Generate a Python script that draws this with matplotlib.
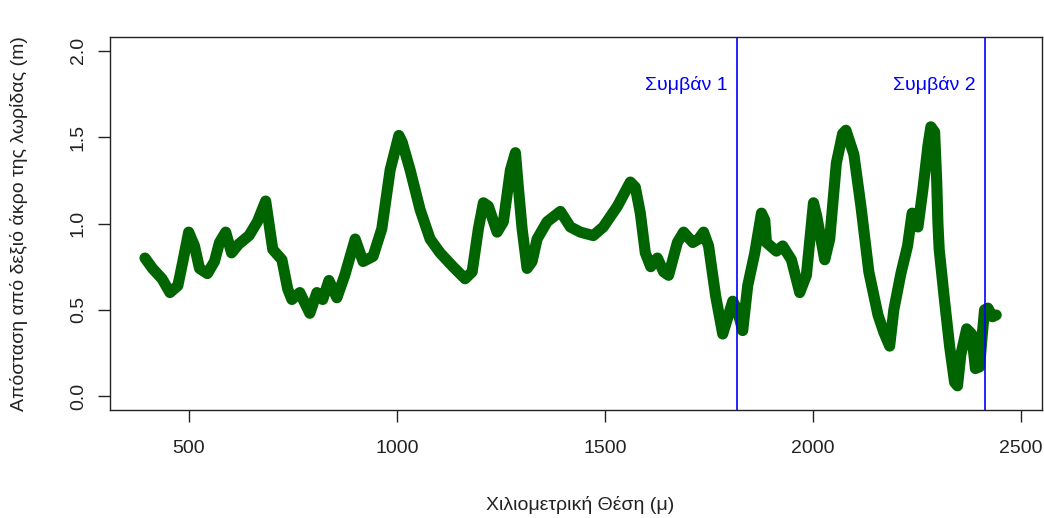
import matplotlib
matplotlib.use("Agg")
import matplotlib.pyplot as plt

plt.rcParams['font.family'] = ['Liberation Sans', 'DejaVu Sans']

# Χιλιομετρική θέση (μ) και απόσταση από το δεξιό άκρο (m), διαβασμένα από το γράφημα
pos = [395, 413, 436, 455, 474, 486, 500, 514, 526, 545, 562, 574, 589, 603,
       620, 645, 665, 685, 702, 724, 738, 748, 767, 791, 808, 822, 837, 856,
       875, 900, 919, 943, 964, 984, 1005, 1013, 1032, 1056, 1080, 1104, 1135,
       1164, 1181, 1196, 1208, 1220, 1241, 1256, 1273, 1285, 1292, 1301, 1313,
       1325, 1337, 1361, 1393, 1417, 1441, 1472, 1496, 1530, 1561, 1573, 1585,
       1597, 1610, 1626, 1641, 1653, 1674, 1689, 1711, 1725, 1737, 1749, 1766,
       1783, 1797, 1807, 1818, 1831, 1843, 1860, 1876, 1884, 1888, 1912, 1927,
       1948, 1968, 1984, 2001, 2009, 2028, 2040, 2056, 2071, 2079, 2098, 2115,
       2134, 2156, 2170, 2184, 2194, 2211, 2227, 2238, 2252, 2264, 2276, 2283,
       2292, 2297, 2300, 2303, 2316, 2328, 2340, 2347, 2355, 2369, 2381, 2390,
       2400, 2407, 2412, 2420, 2431, 2440]
dist = [0.80, 0.74, 0.68, 0.60, 0.64, 0.78, 0.95, 0.87, 0.74, 0.71, 0.78, 0.89,
        0.95, 0.83, 0.88, 0.93, 1.01, 1.13, 0.85, 0.79, 0.62, 0.56, 0.60, 0.48,
        0.60, 0.56, 0.67, 0.57, 0.70, 0.91, 0.78, 0.81, 0.97, 1.31, 1.51, 1.47,
        1.31, 1.08, 0.91, 0.83, 0.75, 0.68, 0.72, 0.97, 1.12, 1.10, 0.95, 1.01,
        1.31, 1.41, 1.21, 0.97, 0.74, 0.78, 0.91, 1.01, 1.07, 0.98, 0.95, 0.93,
        0.98, 1.10, 1.24, 1.21, 1.06, 0.83, 0.75, 0.80, 0.72, 0.70, 0.89, 0.95,
        0.89, 0.91, 0.95, 0.87, 0.58, 0.36, 0.47, 0.55, 0.50, 0.38, 0.64, 0.83,
        1.06, 1.02, 0.89, 0.84, 0.87, 0.79, 0.60, 0.70, 1.12, 1.04, 0.79, 0.91,
        1.35, 1.52, 1.54, 1.40, 1.10, 0.72, 0.47, 0.37, 0.29, 0.50, 0.71, 0.87,
        1.06, 0.98, 1.20, 1.45, 1.56, 1.53, 1.25, 1.00, 0.85, 0.55, 0.29, 0.08,
        0.06, 0.24, 0.39, 0.36, 0.16, 0.17, 0.37, 0.50, 0.51, 0.46, 0.47]

events = [1817, 2413]
event_labels = ['Συμβάν 1', 'Συμβάν 2']

fig = plt.figure(figsize=(10.44, 5.18), dpi=100)
ax = fig.add_axes([110 / 1044, 108 / 518, 932 / 1044, 373 / 518])

ax.plot(pos, dist, color='#006400', lw=8, solid_joinstyle='round',
        solid_capstyle='round')

for xe, lab in zip(events, event_labels):
    ax.axvline(xe, color='#0000FF', lw=1.2)
    ax.annotate(lab, xy=(xe, 1.8), xytext=(-7, 0), textcoords='offset points',
                ha='right', va='center', color='#0000FF', fontsize=14)

ax.set_xlim(311, 2550)
ax.set_ylim(-0.08, 2.08)
ax.set_xticks([500, 1000, 1500, 2000, 2500])
ax.set_yticks([0.0, 0.5, 1.0, 1.5, 2.0])
ax.set_yticklabels(['0.0', '0.5', '1.0', '1.5', '2.0'], rotation=90, va='center')

ax.tick_params(axis='both', direction='out', length=8.6, width=1, labelsize=14,
               colors='#222222')
ax.tick_params(axis='x', pad=13)
ax.tick_params(axis='y', pad=8)
for s in ax.spines.values():
    s.set_linewidth(1)
    s.set_color('#222222')

fig.text(19 / 1044, 1 - 224 / 518, 'Απόσταση από δεξιό άκρο της λωρίδας (m)',
         rotation=90, ha='center', va='center', fontsize=14, color='#222222')
fig.text(580 / 1044, 1 - 505 / 518, 'Χιλιομετρική Θέση (μ)',
         ha='center', va='center', fontsize=14, color='#222222')

fig.savefig('out.png', dpi=100)
